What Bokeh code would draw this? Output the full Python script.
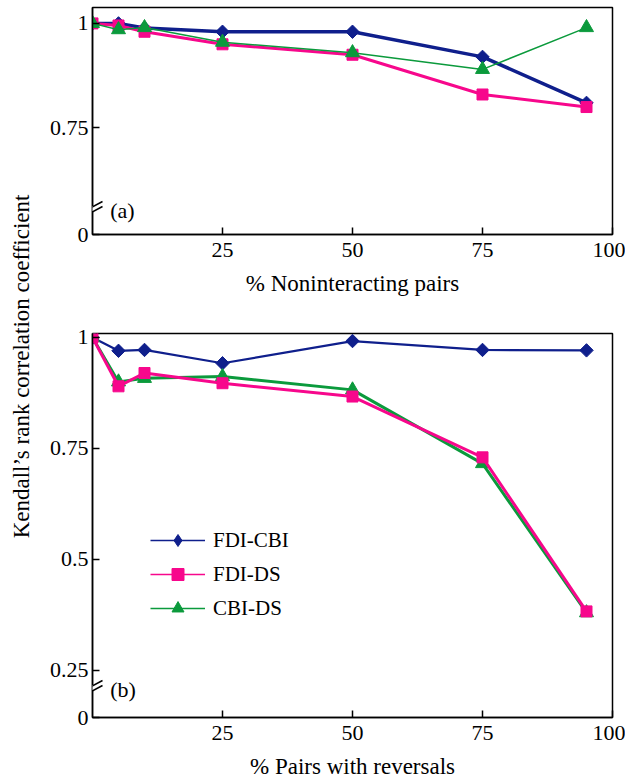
from math import pi
from bokeh.plotting import figure
from bokeh.layouts import row, column
from bokeh.models import Range1d, FixedTicker, Label, Arrow, Legend, LegendItem, ColumnDataSource
from bokeh.core.properties import value
from bokeh.embed import file_html
from bokeh.resources import INLINE

# ---------------- data ----------------
x_nonint = [0, 5, 10, 25, 50, 75, 95]
fdi_cbi_a = [1.0, 1.0, 0.989, 0.98, 0.98, 0.92, 0.81]
fdi_ds_a = [1.0, 0.995, 0.98, 0.95, 0.925, 0.83, 0.80]
cbi_ds_a = [1.0, 0.985, 0.99, 0.955, 0.93, 0.89, 0.99]

x_rev = [0, 5, 10, 25, 50, 75, 95]
fdi_cbi_b = [1.0, 0.97, 0.972, 0.942, 0.992, 0.972, 0.971]
fdi_ds_b = [1.0, 0.89, 0.92, 0.897, 0.867, 0.73, 0.383]
cbi_ds_b = [1.0, 0.90, 0.908, 0.912, 0.882, 0.716, 0.38]

series_names = ["FDI-CBI", "FDI-DS", "CBI-DS"]
x_ticks = [25, 50, 75, 100]
y_ticks_a = [0.75, 1.0]
y_ticks_b = [0.25, 0.5, 0.75, 1.0]
y_tick_labels = {0.25: "0.25", 0.5: "0.5", 0.75: "0.75", 1.0: "1"}
x_label_a = "% Noninteracting pairs"
x_label_b = "% Pairs with reversals"
y_label = "Kendall\u2019s rank correlation coefficient"

# ---------------- style ----------------
BLUE = "#0f1f8c"
PINK = "#f7078c"
GREEN = "#0b9a3c"
FONT = "Liberation Serif"
TICK_FS = "22px"
LABEL_FS = "23px"
LEG_FS = "21px"
FRAME_W = 520

def make_panel(frame_h, y_lo, y_hi, y_ticks, x_label, tag, break_px, min_top, min_bottom):
    p = figure(frame_width=FRAME_W, frame_height=frame_h,
               x_range=Range1d(0, 100), y_range=Range1d(y_lo, y_hi),
               output_backend="svg", toolbar_location=None,
               min_border_left=54, min_border_right=13,
               min_border_top=min_top, min_border_bottom=min_bottom)
    p.grid.visible = False
    p.outline_line_color = "black"
    p.outline_line_width = 1.5
    p.background_fill_color = "white"
    p.border_fill_color = "white"
    ticks = [y_lo] + list(y_ticks)
    overrides = {y_lo: "0"}
    for t in y_ticks:
        overrides[t] = y_tick_labels[t]
    p.yaxis.ticker = FixedTicker(ticks=ticks)
    p.yaxis.major_label_overrides = overrides
    p.xaxis.ticker = FixedTicker(ticks=x_ticks)
    for ax in (p.xaxis[0], p.yaxis[0]):
        ax.major_tick_in = 7
        ax.major_tick_out = 0
        ax.minor_tick_line_color = None
        ax.axis_line_width = 1.5
        ax.major_tick_line_width = 1.5
        ax.major_label_text_font = FONT
        ax.major_label_text_font_size = TICK_FS
        ax.major_label_text_color = "black"
        ax.axis_label_text_font = FONT
        ax.axis_label_text_font_size = LABEL_FS
        ax.axis_label_text_font_style = "normal"
        ax.axis_label_text_color = "black"
    p.yaxis.major_label_standoff = 4
    p.xaxis.major_label_standoff = 8
    p.xaxis.axis_label = x_label
    p.xaxis.axis_label_standoff = 11

    # axis break marks
    ux = 100.0 / FRAME_W
    uy = (y_hi - y_lo) / frame_h
    yc = y_lo + break_px * uy
    p.add_layout(Arrow(end=None, x_start=0, x_end=0,
                       y_start=yc - 2.5 * uy, y_end=yc + 2.5 * uy,
                       line_color="white", line_width=4))
    for off in (-2.5, 2.5):
        p.add_layout(Arrow(end=None, x_start=-7 * ux, x_end=10 * ux,
                           y_start=yc + (off - 4.5) * uy, y_end=yc + (off + 4.5) * uy,
                           line_color="black", line_width=1.5))
    p.add_layout(Label(x=3.4, y=yc - 2 * uy, text=tag, text_font=FONT,
                       text_font_size=TICK_FS, text_baseline="middle", text_color="black"))
    return p

def draw(p, x, y, color, marker, size, lw, angle=0.0):
    src = ColumnDataSource(data=dict(x=x, y=y))
    p.line("x", "y", source=src, line_color=color, line_width=lw)
    p.scatter("x", "y", source=src, marker=marker, size=size, angle=angle,
              fill_color=color, line_color=color)

# top panel (a)
pa = make_panel(227, 0.4952, 1.038, y_ticks_a, x_label_a, "(a)", 26, 7, 84)
draw(pa, x_nonint, fdi_cbi_a, BLUE, "square", 9.5, 3.5, pi / 4)
draw(pa, x_nonint, fdi_ds_a, PINK, "square", 11, 3)
draw(pa, x_nonint, cbi_ds_a, GREEN, "triangle", 14, 1.5)

# bottom panel (b)
pb = make_panel(384, 0.144, 1.009, y_ticks_b, x_label_b, "(b)", 30, 15, 60)
draw(pb, x_rev, fdi_cbi_b, BLUE, "square", 9.5, 2.2, pi / 4)
draw(pb, x_rev, cbi_ds_b, GREEN, "triangle", 14, 3)
draw(pb, x_rev, fdi_ds_b, PINK, "square", 11, 3)

# legend (legend-only renderers, no plotted data)
NAN = float("nan")
items = []
for name, color, marker in zip(series_names, [BLUE, PINK, GREEN],
                               ["diamond", "square", "triangle"]):
    es = ColumnDataSource(data=dict(x=[NAN], y=[NAN]))
    r1 = pb.line("x", "y", source=es, line_color=color, line_width=1.5)
    r2 = pb.scatter("x", "y", source=es, marker=marker, size=12,
                    fill_color=color, line_color=color)
    items.append(LegendItem(label=name, renderers=[r1, r2]))
leg = Legend(items=items, location=(58, 94), padding=0, margin=0,
             glyph_width=55, glyph_height=30, label_height=30, spacing=4,
             label_standoff=8, label_text_font=FONT, label_text_font_size=LEG_FS,
             label_text_color="black", border_line_color=None,
             background_fill_alpha=0)
pb.add_layout(leg)

# shared y-axis title
TOTAL_H = 318 + 459
pl = figure(width=38, height=TOTAL_H, x_range=Range1d(0, 1), y_range=Range1d(0, 1),
            output_backend="svg", toolbar_location=None,
            min_border=0, min_border_left=0, min_border_right=0,
            min_border_top=0, min_border_bottom=0)
pl.axis.visible = False
pl.grid.visible = False
pl.outline_line_color = None
pl.text(x=[0.55], y=[0.529], text=[y_label], angle=pi / 2,
        text_font=value(FONT), text_font_size=LABEL_FS, text_align="center",
        text_baseline="middle", text_color="black")

layout = row(pl, column(pa, pb))
open("out.html", "w").write(file_html(layout, INLINE))
